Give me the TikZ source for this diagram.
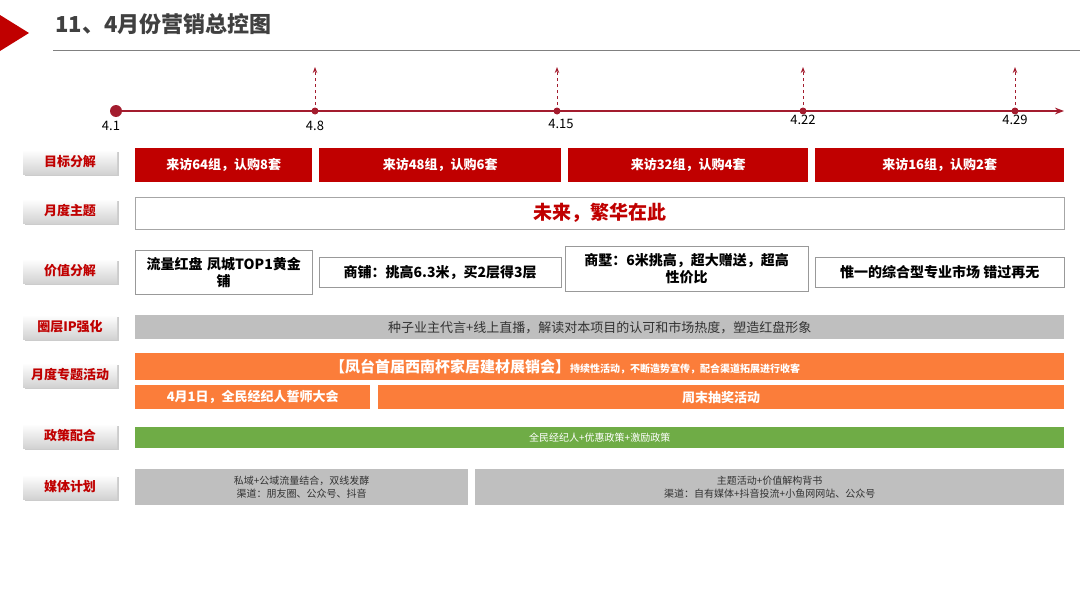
\documentclass[tikz,border=0pt]{standalone}
\usepackage{fontspec}
\setmainfont{Noto Sans CJK SC}
\usetikzlibrary{arrows.meta,shadows}
\definecolor{dred}{HTML}{A31C2E}
\definecolor{bred}{HTML}{C00000}
\definecolor{org}{HTML}{FB7D3A}
\definecolor{grn}{HTML}{6FAC46}
\definecolor{gry}{HTML}{BFBFBF}
\tikzset{
 lab/.style={minimum width=94pt,minimum height=24pt,inner sep=0pt,top color=white,bottom color=gray!35,
   drop shadow={shadow xshift=2pt,shadow yshift=-2pt,opacity=.4},text=bred,font=\fontsize{13}{13}\selectfont\bfseries},
 bar/.style={inner sep=0pt,anchor=north west},
 tick/.style={dred,dashed,-{Stealth[length=6pt]},line width=1pt},
 day/.style={font=\fontsize{13}{13}\selectfont,anchor=north}
}
\begin{document}
\begin{tikzpicture}[x=1pt,y=-1pt]
\useasboundingbox (0,0) rectangle (1080,605);
\fill[bred] (0,15) -- (29,33) -- (0,51) -- cycle;
\node[anchor=west,text=black!75,font=\fontsize{22}{22}\selectfont\bfseries] (title) at (52,24) {11、4月份营销总控图};
\draw[gray,line width=0.8pt] (53,50) -- (1080,50);
% timeline
\coordinate (t0) at (116,111);
\coordinate (tend) at (1064,111);
\draw[dred,line width=1.5pt,-{Stealth[length=9pt]}] (t0) -- (tend);
\fill[dred] (t0) circle (6);
\foreach \n/\x in {a/315,b/557,c/803,d/1015}{
  \fill[dred] (\x,111) circle (3.5) coordinate (p\n);
  \coordinate (q\n) at (\x,67);
  \draw[tick] (p\n) -- (q\n);
}
\node[day] (l1) at (111,118) {4.1};
\node[day] (l2) at (315,118) {4.8};
\node[day] (l3) at (561,116) {4.15};
\node[day] (l4) at (803,112) {4.22};
\node[day] (l5) at (1015,112) {4.29};
% left labels
\foreach \n/\y/\t in {a/162/目标分解,b/211/月度主题,c/271/价值分解,d/327/圈层IP强化,e/375/月度专题活动,f/436/政策配合,g/487/媒体计划}{
  \node[lab] (L\n) at (70,\y) {\t};
}
% row 1
\foreach \n/\a/\b/\t in {1/135/312/来访64组，认购8套,2/319/561/来访48组，认购6套,3/568/808/来访32组，认购4套,4/815/1064/来访16组，认购2套}{
  \node[bar,fill=bred,minimum width=\b-\a,minimum height=34pt,text=white,font=\fontsize{13}{13}\selectfont\bfseries] (r\n) at (\a,148) {\t};
}
% row 2
\node[bar,draw=gray!70,fill=white,minimum width=929pt,minimum height=32pt,text=bred,font=\fontsize{19}{19}\selectfont\bfseries] (theme) at (135,197) {未来，繁华在此};
% row 3
\tikzset{vb/.style={bar,draw=gray!80,fill=white,font=\fontsize{14}{17}\selectfont\bfseries,align=center}}
\node[vb,minimum width=177pt,minimum height=44pt,text width=170pt] (v1) at (135,250) {流量红盘 凤城TOP1黄金\\铺};
\node[vb,minimum width=242pt,minimum height=30pt] (v2) at (319,257) {商铺：挑高6.3米，买2层得3层};
\node[vb,minimum width=243pt,minimum height=45pt,text width=236pt] (v3) at (565,246) {商墅：6米挑高，超大赠送，超高\\性价比};
\node[vb,minimum width=249pt,minimum height=30pt] (v4) at (815,257) {惟一的综合型专业市场 错过再无};
% row 4
\node[bar,fill=gry,minimum width=929pt,minimum height=24pt,text=black!80,font=\fontsize{13}{13}\selectfont] (ip) at (135,315) {种子业主代言+线上直播，解读对本项目的认可和市场热度，塑造红盘形象};
% row 5
\node[bar,fill=org,minimum width=929pt,minimum height=27pt] (ev) at (135,353) {};
\node[anchor=west,text=white,inner sep=0pt] (evt) at (330,366.5) {\fontsize{15}{15}\selectfont\bfseries 【凤台首届西南杯家居建材展销会】\fontsize{10}{10}\selectfont 持续性活动，不断造势宣传，配合渠道拓展进行收客};
\node[bar,fill=org,minimum width=235pt,minimum height=24pt,text=white,font=\fontsize{13}{13}\selectfont\bfseries] (e1) at (135,385) {4月1日，全民经纪人誓师大会};
\node[bar,fill=org,minimum width=686pt,minimum height=24pt,text=white,font=\fontsize{13}{13}\selectfont\bfseries] (e2) at (378,385) {周末抽奖活动};
% row 7
\node[bar,fill=grn,minimum width=929pt,minimum height=21pt,text=white,font=\fontsize{10}{10}\selectfont] (pol) at (135,427) {全民经纪人+优惠政策+激励政策};
% row 8
\tikzset{mb/.style={bar,fill=gry,minimum height=36pt,text=black!80,font=\fontsize{10}{13}\selectfont,align=center}}
\node[mb,minimum width=333pt] (m1) at (135,469) {私域+公域流量结合，双线发酵\\渠道：朋友圈、公众号、抖音};
\node[mb,minimum width=589pt] (m2) at (475,469) {主题活动+价值解构背书\\渠道：自有媒体+抖音投流+小鱼网网站、公众号};
\end{tikzpicture}
\end{document}
